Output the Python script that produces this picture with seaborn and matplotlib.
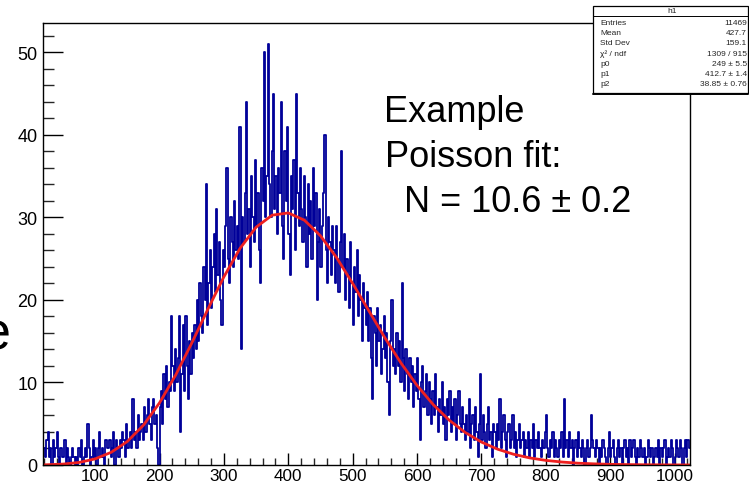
import numpy as np
import pandas as pd
import matplotlib
matplotlib.use("Agg")
import matplotlib.pyplot as plt
import seaborn as sns
from matplotlib.patches import Rectangle
from matplotlib.lines import Line2D
from matplotlib.ticker import MultipleLocator

# ---------------- data ----------------
bin_start = 20
bin_width = 2
counts = [
    2,1,3,4,1,2,0,3,1,2,4,1,0,2,1,1,3,0,2,1,0,1,2,1,0,
    1,0,2,1,3,0,1,2,1,5,2,0,1,3,1,2,0,2,4,1,2,1,0,3,2,
    2,3,1,2,4,0,3,2,1,3,2,4,3,1,5,2,3,4,2,8,3,4,2,6,3,
    4,5,3,7,4,6,8,5,3,7,8,5,6,2,0,7,9,5,11,8,12,7,10,9,18,
    12,9,14,10,13,18,4,11,17,9,18,12,8,15,11,16,13,17,14,20,15,22,18,16,24,
    20,34,17,22,26,19,24,28,21,31,23,27,20,17,26,24,29,36,25,22,30,27,24,32,26,
    29,25,41,14,30,27,33,44,28,31,24,35,30,27,37,29,33,26,22,36,32,50,30,35,51,
    34,30,38,45,31,35,28,36,33,44,29,25,38,32,41,28,23,35,31,37,26,45,33,29,36,
    31,27,35,30,24,34,28,32,25,36,29,33,20,27,31,24,29,33,40,26,22,30,27,23,29,
    26,22,29,25,21,27,38,24,28,20,25,23,19,27,22,17,24,21,26,18,23,20,15,22,19,
    17,21,15,19,13,8,18,16,12,19,15,17,11,14,18,13,16,10,6,15,20,12,14,11,16,
    12,15,10,22,13,9,14,11,8,13,10,12,7,11,9,13,8,3,10,12,7,9,11,6,10,
    8,5,9,6,11,7,4,8,6,10,5,7,3,8,6,9,4,7,5,8,3,6,9,5,4,
    7,5,3,6,4,8,2,5,6,3,7,4,1,5,11,3,6,4,2,5,7,3,4,1,5,
    4,2,5,3,8,2,4,6,3,1,4,5,2,3,6,2,4,1,3,5,2,3,4,1,3,
    2,4,1,3,2,5,1,3,2,4,2,1,3,2,4,6,2,1,3,2,4,1,3,2,1,
    3,2,4,1,8,2,3,1,4,2,3,0,2,3,1,4,2,1,3,2,0,2,3,1,2,
    6,3,2,1,3,2,0,2,1,3,2,1,0,2,4,1,2,3,1,0,2,3,1,2,0,
    2,3,1,2,0,3,1,2,3,1,0,2,1,3,2,1,2,0,1,3,2,1,2,0,1,
    2,1,3,0,2,1,2,3,0,1,2,1,3,2,0,1,3,2,1,3,2,0,2,3,1,
    3,2,
]
fit_x = [20, 25, 50, 75, 100, 125, 150, 175, 200, 225, 250, 275, 300, 325,
         350, 375, 400, 425, 450, 475, 500, 525, 550, 575, 600, 625, 650,
         675, 700, 725, 750, 775, 800, 825, 850, 875, 900, 925, 950, 975,
         1000, 1024]
fit_y = [0.02, 0.03, 0.11, 0.31, 0.74, 1.54, 2.85, 4.82, 7.53, 10.89, 14.76,
         18.86, 22.8, 26.24, 28.81, 30.27, 30.54, 29.66, 27.77, 25.13, 22.0,
         18.70, 15.42, 12.36, 9.64, 7.33, 5.43, 3.93, 2.78, 1.92, 1.30, 0.86,
         0.56, 0.36, 0.22, 0.14, 0.08, 0.05, 0.03, 0.02, 0.01, 0.005]
x_ticks = [100, 200, 300, 400, 500, 600, 700, 800, 900, 1000]
y_ticks = [0, 10, 20, 30, 40, 50]
stats_title = "h1"
stats_labels = ["Entries", "Mean", "Std Dev", "χ² / ndf", "p0", "p1", "p2"]
stats_values = ["11469", "427.7", "159.1", "1309 / 915", "249 ± 5.5",
                "412.7 ± 1.4", "38.85 ± 0.76"]
note_lines = ["Example", "Poisson fit:", "N = 10.6 ± 0.2"]

# ---------------- style ----------------
sns.set_theme(style="white")
plt.rcParams["font.family"] = ["Liberation Sans", "DejaVu Sans"]

W, H = 749, 485
fig = plt.figure(figsize=(W / 100, H / 100), dpi=100)
fig.patch.set_facecolor("white")
ax = fig.add_axes([43 / W, 19 / H, 647 / W, 442 / H])
ax.set_facecolor("white")

n = len(counts)
centers = bin_start + bin_width * (np.arange(n) + 0.5)
df = pd.DataFrame({"x": centers, "w": counts})
sns.histplot(data=df, x="x", weights="w", binwidth=bin_width,
             binrange=(bin_start, bin_start + bin_width * n), element="step",
             fill=False, color="#000099", linewidth=1.3, ax=ax)
sns.lineplot(x=fit_x, y=fit_y, color="#ee2020", linewidth=2.0, ax=ax)

ax.set_xlim(19, 1024)
ax.set_ylim(0, 53.55)
ax.set_xlabel("")
ax.set_ylabel("")
ax.set_xticks(x_ticks)
ax.set_xticklabels([str(t) for t in x_ticks])
ax.set_yticks(y_ticks)
ax.set_yticklabels([str(t) for t in y_ticks])
ax.xaxis.set_minor_locator(MultipleLocator(20))
ax.yaxis.set_minor_locator(MultipleLocator(2))
ax.tick_params(axis="y", which="major", direction="in", length=14.4,
               width=1, labelsize=13, pad=4, colors="black", left=True)
ax.tick_params(axis="y", which="minor", direction="in", length=7.7,
               width=1, left=True)
ax.tick_params(axis="x", which="major", direction="in", length=8.6,
               width=1, labelsize=12.3, pad=2.2, colors="black", bottom=True)
ax.tick_params(axis="x", which="minor", direction="in", length=4.8,
               width=1, bottom=True)
for s in ax.spines.values():
    s.set_visible(True)
    s.set_color("black")
    s.set_linewidth(1.0)

# annotation text
baselines = [121.7, 166.7, 211.7]
xs = [384, 385, 404]
for t, xb, yb in zip(note_lines, xs, baselines):
    fig.text(xb / W, 1 - yb / H, t, fontsize=26, va="baseline", ha="left",
             color="black")

# cropped large "e" at the left edge
fig.text(10.5 / W, 1 - 350 / H, "e", fontsize=39, ha="right", va="baseline",
         color="black")

# stats box
bx0, bx1, by0, by1 = 593, 748, 6.7, 94.3
rect = Rectangle((bx0 / W, 1 - by1 / H), (bx1 - bx0) / W, (by1 - by0) / H,
                 transform=fig.transFigure, facecolor="white",
                 edgecolor="black", linewidth=0.9, zorder=5)
fig.patches.append(rect)
fig.add_artist(Line2D([bx0 / W, bx1 / W], [1 - 16.7 / H, 1 - 16.7 / H],
                      transform=fig.transFigure, color="black", lw=0.7,
                      zorder=6))
fig.add_artist(Line2D([bx0 / W, bx1 / W], [1 - 95.0 / H, 1 - 95.0 / H],
                      transform=fig.transFigure, color="black", lw=1.4,
                      zorder=6))
fig.text(671.7 / W, 1 - 11.9 / H, stats_title, fontsize=6, ha="center",
         va="center", zorder=7)
for i, (lab, val) in enumerate(zip(stats_labels, stats_values)):
    yy = 1 - (23.5 + i * 10.2) / H
    fig.text(600 / W, yy, lab, fontsize=6, ha="left", va="center", zorder=7)
    fig.text(746.7 / W, yy, val, fontsize=6, ha="right", va="center",
             zorder=7)

fig.savefig("out.png", dpi=100, facecolor="white")
